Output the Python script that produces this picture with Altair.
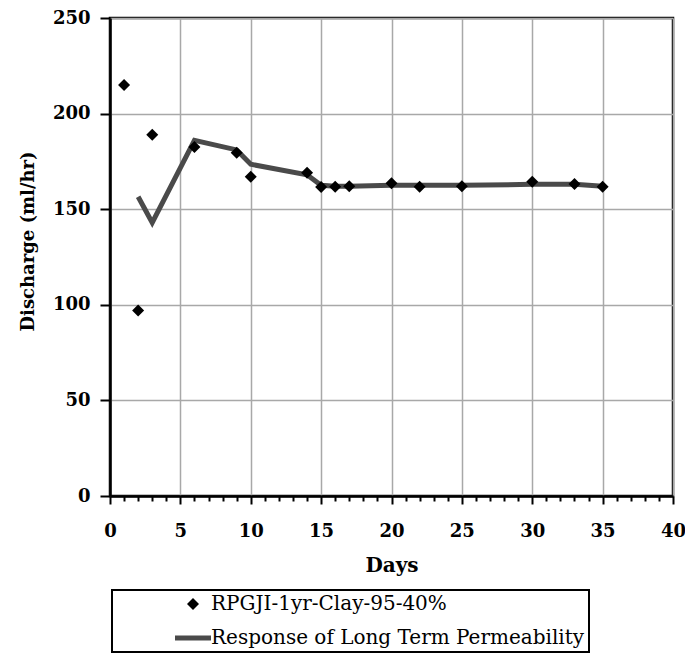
import altair as alt
import pandas as pd

# Measured series
pt_days = [1, 2, 3, 6, 9, 10, 14, 15, 16, 17, 20, 22, 25, 30, 33, 35]
pt_vals = [215, 97, 189, 182.5, 179.5, 167, 169, 161.6, 161.8, 162, 163.6, 161.8, 162, 164.4, 163.2, 161.8]

ln_days = [2, 3, 6, 9, 10, 14, 15, 16, 17, 20, 22, 25, 30, 33, 35]
ln_vals = [156.5, 143, 186, 181, 173.5, 168, 162.5, 162, 162, 162.5, 162.5, 162.5, 163, 163, 162]

series_names = ["RPGJI-1yr-Clay-95-40%", "Response of Long Term Permeability"]
x_ticks = list(range(0, 41))
y_ticks = [0, 50, 100, 150, 200, 250]

pts = pd.DataFrame({"day": pt_days, "val": pt_vals, "series": series_names[0]})
lns = pd.DataFrame({"day": ln_days, "val": ln_vals})

SERIF = "DejaVu Serif"
DIAMOND = "M0,-1L1,0L0,1L-1,0Z"
BAR = "M-3,-0.42H3V0.42H-3Z"

x_enc = alt.X(
    "day:Q",
    scale=alt.Scale(domain=[0, 40], nice=False, zero=False),
    axis=alt.Axis(
        title="Days",
        values=x_ticks,
        labelExpr="datum.value % 5 === 0 ? datum.label : ''",
        labelOverlap=False,
        labelFlush=False,
        tickSize={"condition": {"test": "datum.value % 5 === 0", "value": 8}, "value": 5},
        gridOpacity={"condition": {"test": "datum.value % 5 === 0", "value": 1}, "value": 0},
        labelPadding=18,
        titlePadding=15,
    ),
)
y_enc = alt.Y(
    "val:Q",
    scale=alt.Scale(domain=[0, 250], nice=False),
    axis=alt.Axis(
        title="Discharge (ml/hr)",
        values=y_ticks,
        tickSize=10,
        labelPadding=10,
        titlePadding=15,
        titleY=223,
    ),
)

line = alt.Chart(lns).mark_line(color="#4a4a4a", strokeWidth=5, strokeJoin="miter").encode(
    x=x_enc, y=y_enc
)

points = alt.Chart(pts).mark_point(filled=True, size=144, opacity=1).encode(
    x=x_enc,
    y=y_enc,
    color=alt.Color(
        "series:N",
        scale=alt.Scale(domain=series_names, range=["#000000", "#4a4a4a"]),
        legend=alt.Legend(title=None),
    ),
    shape=alt.Shape(
        "series:N",
        scale=alt.Scale(domain=series_names, range=[DIAMOND, BAR]),
        legend=alt.Legend(title=None),
    ),
)

chart = (
    alt.layer(line, points)
    .properties(
        width=563,
        height=478,
        autosize=alt.AutoSizeParams(type="none"),
        padding={"left": 102, "top": 10, "right": 12, "bottom": 157},
    )
    .configure_view(stroke="#000000", strokeWidth=2.5)
    .configure_axis(
        domainColor="#000000",
        domainWidth=2.5,
        tickColor="#000000",
        tickWidth=2,
        gridColor="#a8a8a8",
        gridWidth=1.5,
        labelFont=SERIF,
        labelFontWeight="bold",
        labelFontSize=18,
        labelColor="#000000",
        titleFont=SERIF,
        titleFontWeight="bold",
        titleFontSize=20,
        titleColor="#000000",
    )
    .configure_axisY(titleFontSize=18)
    .configure_legend(
        orient="none",
        legendX=2,
        legendY=572,
        strokeColor="#000000",
        strokeWidth=2,
        padding=4,
        labelFont=SERIF,
        labelFontSize=20,
        labelColor="#000000",
        labelLimit=600,
        rowPadding=14,
        symbolOffset=67,
        labelOffset=8,
        symbolStrokeWidth=0,
        symbolSize=144,
    )
)

chart.save("out.html", embed_options={"renderer": "svg", "actions": False})
